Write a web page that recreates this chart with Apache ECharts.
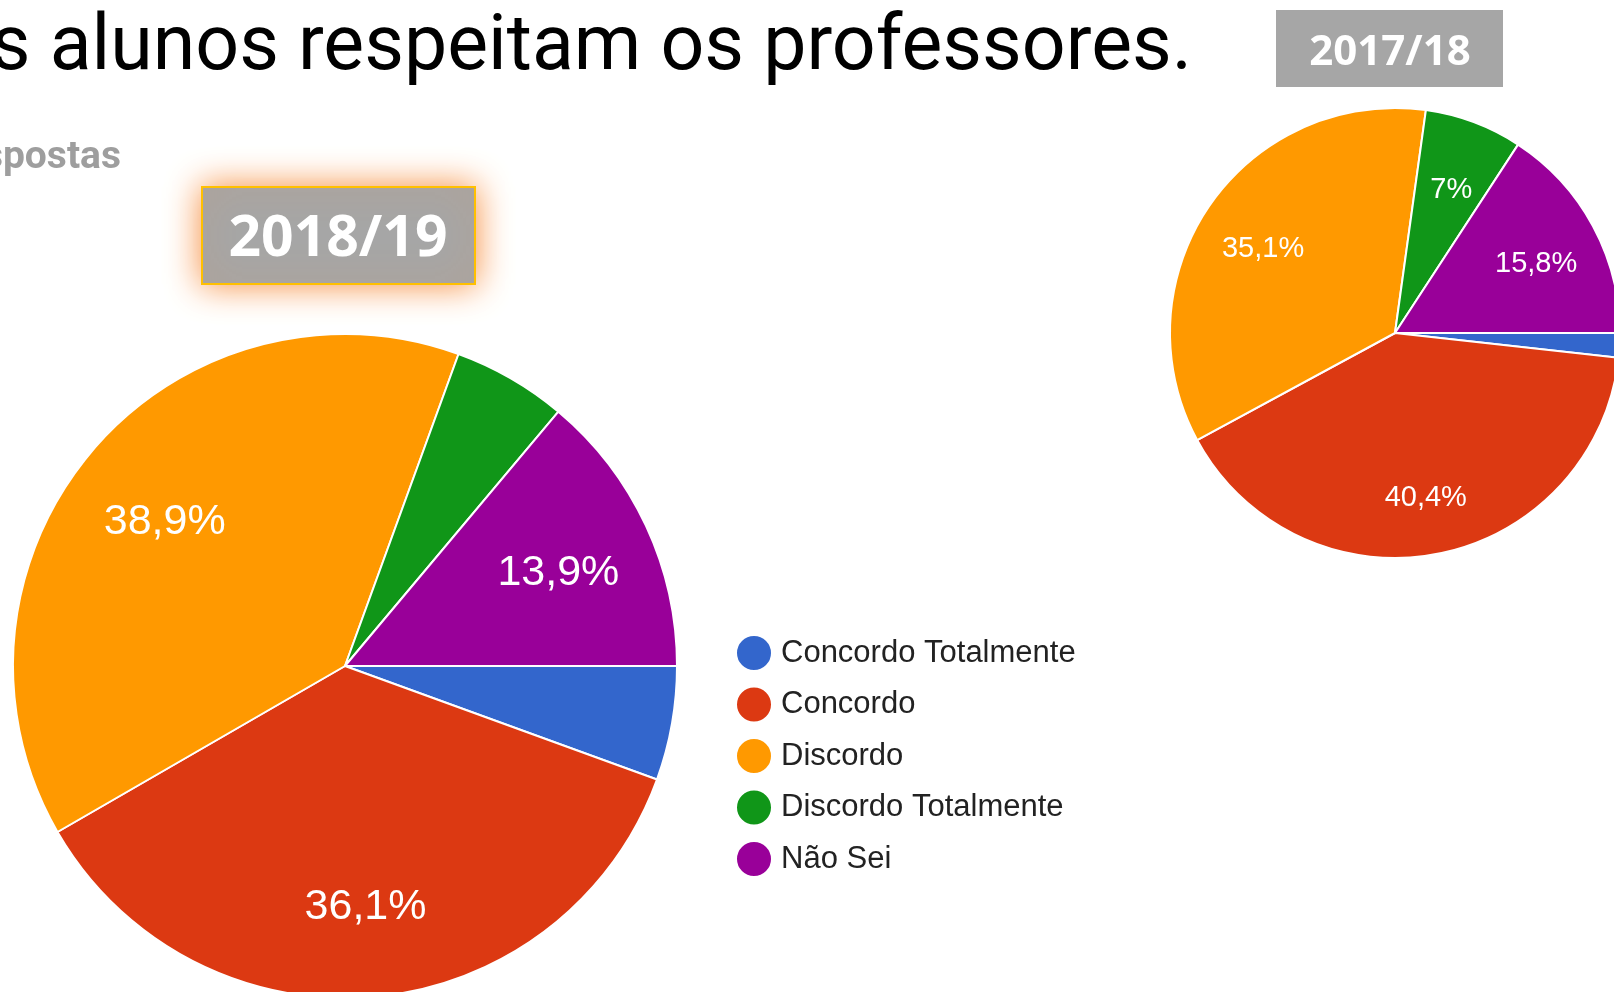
<!DOCTYPE html>
<html>
<head>
<meta charset="utf-8">
<title>Os alunos respeitam os professores.</title>
<script src="https://cdn.jsdelivr.net/npm/echarts@6/dist/echarts.min.js"></script>
<style>
  html, body { margin: 0; padding: 0; background: #fff; }
  #chart { width: 1614px; height: 992px; }
</style>
</head>
<body>
<div id="chart"></div>
<script>
// categorias (ordem do Google Forms)
const categories = ['Concordo Totalmente', 'Concordo', 'Discordo', 'Discordo Totalmente', 'Não Sei']
const colors = ['#3366cc', '#dc3912', '#ff9900', '#109618', '#990099']

// número de respostas por ano
const counts1819 = [2, 13, 14, 2, 5]   // 36 respostas
const counts1718 = [1, 23, 20, 4, 9]   // 57 respostas

const chart = echarts.init(document.getElementById('chart'))

const toData = (arr) => arr.map((v, i) => ({ name: categories[i], value: v, itemStyle: { color: colors[i] } }))

// 38.9 -> "38,9%", 7.0 -> "7%"
const fmtPct = (p) => {
  if (p < 6) return ''
  const r = Math.round(p * 10) / 10
  return String(r).replace('.', ',') + '%'
}

// fatia colorida + série transparente só para as etiquetas (fica a ~70% do raio)
const pieSeries = (data, center, r, fontSize) => [
  {
    type: 'pie',
    center: center,
    radius: [0, r],
    startAngle: 0,
    clockwise: true,
    data: data,
    label: { show: false },
    labelLine: { show: false },
    itemStyle: { borderColor: '#fff', borderWidth: 2 },
    emphasis: { disabled: true },
    animation: false
  },
  {
    type: 'pie',
    center: center,
    radius: [r * 0.4, r],
    startAngle: 0,
    clockwise: true,
    silent: true,
    avoidLabelOverlap: false,
    data: data.map(d => ({ name: d.name, value: d.value })),
    itemStyle: { color: 'rgba(0,0,0,0)', borderWidth: 0 },
    label: {
      show: true,
      position: 'inside',
      color: '#fff',
      fontFamily: 'Liberation Sans, Arial, sans-serif',
      fontSize: fontSize,
      textBorderWidth: 0,
      offset: [0, 7],
      formatter: (p) => fmtPct(p.percent)
    },
    labelLine: { show: false },
    emphasis: { disabled: true },
    animation: false
  }
]

const option = {
  backgroundColor: '#fff',
  animation: false,
  legend: {
    orient: 'vertical',
    left: 730,
    top: 629,
    icon: 'circle',
    itemWidth: 36,
    itemHeight: 36,
    itemGap: 13.5,
    selectedMode: false,
    data: categories.map((c, i) => ({ name: c, itemStyle: { color: colors[i] } })),
    textStyle: {
      fontFamily: 'Liberation Sans, Arial, sans-serif',
      fontSize: 31,
      color: '#222',
      padding: [0, 0, 0, 4]
    }
  },
  graphic: [
    // título (cortado à esquerda no original)
    {
      type: 'text',
      style: {
        text: 'Os alunos respeitam os professores.',
        x: 1192, y: 50,
        align: 'right', verticalAlign: 'middle',
        font: '400 77px Roboto, sans-serif',
        fill: '#000'
      }
    },
    {
      type: 'text',
      style: {
        text: '36 respostas',
        x: 121, y: 158,
        align: 'right', verticalAlign: 'middle',
        font: '700 39px Roboto, sans-serif',
        fill: '#9e9e9e'
      }
    },
    // caixa 2018/19 com brilho laranja
    {
      type: 'rect',
      shape: { x: 202, y: 187, width: 273, height: 97 },
      style: {
        fill: '#a6a6a6',
        stroke: '#ffc000',
        lineWidth: 2,
        shadowBlur: 34,
        shadowColor: 'rgba(245, 140, 60, 1)'
      }
    },
    {
      type: 'text',
      style: {
        text: '2018/19',
        x: 338, y: 240,
        align: 'center', verticalAlign: 'middle',
        font: 'bold 57px "Open Sans", sans-serif',
        fill: '#fff'
      }
    },
    // caixa 2017/18
    {
      type: 'rect',
      shape: { x: 1276, y: 10, width: 227, height: 77 },
      style: { fill: '#a6a6a6' }
    },
    {
      type: 'text',
      style: {
        text: '2017/18',
        x: 1390, y: 53,
        align: 'center', verticalAlign: 'middle',
        font: 'bold 42px "Open Sans", sans-serif',
        fill: '#fff'
      }
    }
  ],
  series: [
    ...pieSeries(toData(counts1819), [345, 666], 332, 43),
    ...pieSeries(toData(counts1718), [1395, 333], 225, 29)
  ]
}

chart.setOption(option)
</script>
</body>
</html>
